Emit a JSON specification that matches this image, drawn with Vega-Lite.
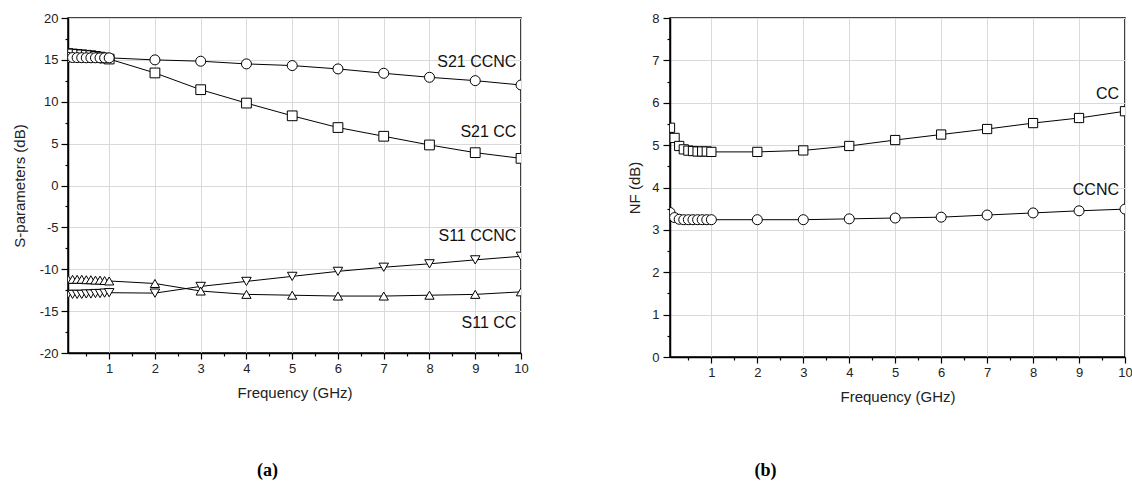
{
  "$schema": "https://vega.github.io/schema/vega-lite/v6.json",
  "padding": {"left": 11, "top": 11, "right": 0, "bottom": 0},
  "background": "white",
  "datasets": {
    "sp": [
      {"f":0.1,"val":15.75,"s":"S21 CC"},{"f":0.2,"val":15.7,"s":"S21 CC"},{"f":0.3,"val":15.65,"s":"S21 CC"},{"f":0.4,"val":15.6,"s":"S21 CC"},{"f":0.5,"val":15.55,"s":"S21 CC"},{"f":0.6,"val":15.5,"s":"S21 CC"},{"f":0.7,"val":15.42,"s":"S21 CC"},{"f":0.8,"val":15.33,"s":"S21 CC"},{"f":0.9,"val":15.22,"s":"S21 CC"},{"f":1,"val":15.1,"s":"S21 CC"},
      {"f":2,"val":13.44,"s":"S21 CC"},{"f":3,"val":11.44,"s":"S21 CC"},{"f":4,"val":9.84,"s":"S21 CC"},{"f":5,"val":8.32,"s":"S21 CC"},{"f":6,"val":6.92,"s":"S21 CC"},{"f":7,"val":5.88,"s":"S21 CC"},{"f":8,"val":4.84,"s":"S21 CC"},{"f":9,"val":3.92,"s":"S21 CC"},{"f":10,"val":3.24,"s":"S21 CC"},
      {"f":0.1,"val":15.3,"s":"S21 CCNC"},{"f":0.2,"val":15.28,"s":"S21 CCNC"},{"f":0.3,"val":15.27,"s":"S21 CCNC"},{"f":0.4,"val":15.26,"s":"S21 CCNC"},{"f":0.5,"val":15.25,"s":"S21 CCNC"},{"f":0.6,"val":15.25,"s":"S21 CCNC"},{"f":0.7,"val":15.25,"s":"S21 CCNC"},{"f":0.8,"val":15.24,"s":"S21 CCNC"},{"f":0.9,"val":15.24,"s":"S21 CCNC"},{"f":1,"val":15.24,"s":"S21 CCNC"},
      {"f":2,"val":15.0,"s":"S21 CCNC"},{"f":3,"val":14.84,"s":"S21 CCNC"},{"f":4,"val":14.52,"s":"S21 CCNC"},{"f":5,"val":14.32,"s":"S21 CCNC"},{"f":6,"val":13.92,"s":"S21 CCNC"},{"f":7,"val":13.4,"s":"S21 CCNC"},{"f":8,"val":12.92,"s":"S21 CCNC"},{"f":9,"val":12.52,"s":"S21 CCNC"},{"f":10,"val":12.0,"s":"S21 CCNC"},
      {"f":0.1,"val":-13.0,"s":"S11 CCNC"},{"f":0.2,"val":-13.0,"s":"S11 CCNC"},{"f":0.3,"val":-13.0,"s":"S11 CCNC"},{"f":0.4,"val":-13.0,"s":"S11 CCNC"},{"f":0.5,"val":-12.95,"s":"S11 CCNC"},{"f":0.6,"val":-12.95,"s":"S11 CCNC"},{"f":0.7,"val":-12.9,"s":"S11 CCNC"},{"f":0.8,"val":-12.9,"s":"S11 CCNC"},{"f":0.9,"val":-12.85,"s":"S11 CCNC"},{"f":1,"val":-12.8,"s":"S11 CCNC"},
      {"f":2,"val":-12.85,"s":"S11 CCNC"},{"f":3,"val":-12.05,"s":"S11 CCNC"},{"f":4,"val":-11.45,"s":"S11 CCNC"},{"f":5,"val":-10.85,"s":"S11 CCNC"},{"f":6,"val":-10.25,"s":"S11 CCNC"},{"f":7,"val":-9.76,"s":"S11 CCNC"},{"f":8,"val":-9.35,"s":"S11 CCNC"},{"f":9,"val":-8.88,"s":"S11 CCNC"},{"f":10,"val":-8.45,"s":"S11 CCNC"},
      {"f":0.1,"val":-11.2,"s":"S11 CC"},{"f":0.2,"val":-11.2,"s":"S11 CC"},{"f":0.3,"val":-11.2,"s":"S11 CC"},{"f":0.4,"val":-11.2,"s":"S11 CC"},{"f":0.5,"val":-11.25,"s":"S11 CC"},{"f":0.6,"val":-11.25,"s":"S11 CC"},{"f":0.7,"val":-11.3,"s":"S11 CC"},{"f":0.8,"val":-11.3,"s":"S11 CC"},{"f":0.9,"val":-11.35,"s":"S11 CC"},{"f":1,"val":-11.4,"s":"S11 CC"},
      {"f":2,"val":-11.7,"s":"S11 CC"},{"f":3,"val":-12.6,"s":"S11 CC"},{"f":4,"val":-13.0,"s":"S11 CC"},{"f":5,"val":-13.1,"s":"S11 CC"},{"f":6,"val":-13.2,"s":"S11 CC"},{"f":7,"val":-13.2,"s":"S11 CC"},{"f":8,"val":-13.1,"s":"S11 CC"},{"f":9,"val":-13.0,"s":"S11 CC"},{"f":10,"val":-12.7,"s":"S11 CC"}
    ],
    "nf": [
      {"f":0.1,"val":5.41,"s":"CC"},{"f":0.2,"val":5.17,"s":"CC"},{"f":0.3,"val":4.98,"s":"CC"},{"f":0.4,"val":4.9,"s":"CC"},{"f":0.5,"val":4.87,"s":"CC"},{"f":0.6,"val":4.86,"s":"CC"},{"f":0.7,"val":4.85,"s":"CC"},{"f":0.8,"val":4.85,"s":"CC"},{"f":0.9,"val":4.85,"s":"CC"},{"f":1,"val":4.84,"s":"CC"},
      {"f":2,"val":4.84,"s":"CC"},{"f":3,"val":4.875,"s":"CC"},{"f":4,"val":4.98,"s":"CC"},{"f":5,"val":5.12,"s":"CC"},{"f":6,"val":5.25,"s":"CC"},{"f":7,"val":5.38,"s":"CC"},{"f":8,"val":5.52,"s":"CC"},{"f":9,"val":5.64,"s":"CC"},{"f":10,"val":5.8,"s":"CC"},
      {"f":0.1,"val":3.41,"s":"CCNC"},{"f":0.2,"val":3.29,"s":"CCNC"},{"f":0.3,"val":3.25,"s":"CCNC"},{"f":0.4,"val":3.24,"s":"CCNC"},{"f":0.5,"val":3.24,"s":"CCNC"},{"f":0.6,"val":3.24,"s":"CCNC"},{"f":0.7,"val":3.24,"s":"CCNC"},{"f":0.8,"val":3.24,"s":"CCNC"},{"f":0.9,"val":3.24,"s":"CCNC"},{"f":1,"val":3.24,"s":"CCNC"},
      {"f":2,"val":3.24,"s":"CCNC"},{"f":3,"val":3.24,"s":"CCNC"},{"f":4,"val":3.26,"s":"CCNC"},{"f":5,"val":3.28,"s":"CCNC"},{"f":6,"val":3.3,"s":"CCNC"},{"f":7,"val":3.35,"s":"CCNC"},{"f":8,"val":3.4,"s":"CCNC"},{"f":9,"val":3.45,"s":"CCNC"},{"f":10,"val":3.49,"s":"CCNC"}
    ],
    "splab": [
      {"f":9.9,"val":14.8,"label":"S21 CCNC"},
      {"f":9.9,"val":6.35,"label":"S21 CC"},
      {"f":9.9,"val":-6.07,"label":"S11 CCNC"},
      {"f":9.9,"val":-16.4,"label":"S11 CC"}
    ],
    "nflab": [
      {"f":9.87,"val":6.2,"label":"CC"},
      {"f":9.87,"val":3.94,"label":"CCNC"}
    ]
  },
  "hconcat": [
    {
      "width": 453,
      "height": 335,
      "title": {"text": "(a)", "orient": "bottom", "anchor": "middle", "dx": -27, "offset": 62, "font": "Liberation Serif", "fontSize": 18, "fontWeight": "bold", "color": "black"},
      "encoding": {
        "x": {"field": "f", "type": "quantitative", "scale": {"domain": [0.1, 10], "nice": false, "zero": false},
          "axis": {"title": "Frequency (GHz)", "values": [0.5,1,1.5,2,2.5,3,3.5,4,4.5,5,5.5,6,6.5,7,7.5,8,8.5,9,9.5,10],
            "labelExpr": "datum.value % 1 === 0 ? '' + datum.value : ''",
            "tickSize": {"condition": {"test": "datum.value % 1 !== 0", "value": 3}, "value": 6},
            "gridOpacity": {"condition": {"test": "datum.value % 1 !== 0", "value": 0}, "value": 1},
            "labelFlush": false, "labelOverlap": false, "labelPadding": 3, "titlePadding": 10}},
        "y": {"field": "val", "type": "quantitative", "scale": {"domain": [-20, 20], "nice": false, "zero": false},
          "axis": {"title": "S-parameters (dB)", "values": [-20,-17.5,-15,-12.5,-10,-7.5,-5,-2.5,0,2.5,5,7.5,10,12.5,15,17.5,20],
            "labelExpr": "datum.value % 5 === 0 ? '' + datum.value : ''",
            "tickSize": {"condition": {"test": "datum.value % 5 !== 0", "value": 3}, "value": 7},
            "gridOpacity": {"condition": {"test": "datum.value % 5 !== 0", "value": 0}, "value": 1},
            "labelFlush": false, "labelOverlap": false, "labelPadding": 3, "titlePadding": 12}}
      },
      "layer": [
        {"data": {"name": "sp"}, "mark": {"type": "line", "color": "black", "strokeWidth": 1, "clip": true},
          "encoding": {"detail": {"field": "s", "type": "nominal"}}},
        {"data": {"name": "sp"}, "mark": {"type": "point", "filled": true, "fill": "white", "stroke": "black", "strokeWidth": 1, "opacity": 1, "clip": true},
          "encoding": {
            "shape": {"field": "s", "type": "nominal", "scale": {"domain": ["S21 CCNC","S21 CC","S11 CCNC","S11 CC"], "range": ["circle","square","triangle-down","triangle-up"]}, "legend": null},
            "size": {"field": "s", "type": "nominal", "scale": {"domain": ["S21 CCNC","S21 CC","S11 CCNC","S11 CC"], "range": [100, 85, 140, 140]}, "legend": null}
          }},
        {"data": {"name": "splab"}, "mark": {"type": "text", "align": "right", "baseline": "middle", "fontSize": 16, "font": "Liberation Sans", "color": "#111"},
          "encoding": {"text": {"field": "label", "type": "nominal"}}}
      ]
    },
    {
      "width": 455,
      "height": 339,
      "title": {"text": "(b)", "orient": "bottom", "anchor": "middle", "dx": -132, "offset": 58, "font": "Liberation Serif", "fontSize": 18, "fontWeight": "bold", "color": "black"},
      "encoding": {
        "x": {"field": "f", "type": "quantitative", "scale": {"domain": [0.1, 10], "nice": false, "zero": false},
          "axis": {"title": "Frequency (GHz)", "values": [0.5,1,1.5,2,2.5,3,3.5,4,4.5,5,5.5,6,6.5,7,7.5,8,8.5,9,9.5,10],
            "labelExpr": "datum.value % 1 === 0 ? '' + datum.value : ''",
            "tickSize": {"condition": {"test": "datum.value % 1 !== 0", "value": 3}, "value": 6},
            "gridOpacity": {"condition": {"test": "datum.value % 1 !== 0", "value": 0}, "value": 1},
            "labelFlush": false, "labelOverlap": false, "labelPadding": 3, "titlePadding": 10}},
        "y": {"field": "val", "type": "quantitative", "scale": {"domain": [0, 8], "nice": false, "zero": false},
          "axis": {"title": "NF (dB)", "values": [0,0.5,1,1.5,2,2.5,3,3.5,4,4.5,5,5.5,6,6.5,7,7.5,8],
            "labelExpr": "datum.value % 1 === 0 ? '' + datum.value : ''",
            "tickSize": {"condition": {"test": "datum.value % 1 !== 0", "value": 3}, "value": 7},
            "gridOpacity": {"condition": {"test": "datum.value % 1 !== 0", "value": 0}, "value": 1},
            "labelFlush": false, "labelOverlap": false, "labelPadding": 4, "titlePadding": 9}}
      },
      "layer": [
        {"data": {"name": "nf"}, "mark": {"type": "line", "color": "black", "strokeWidth": 1, "clip": true},
          "encoding": {"detail": {"field": "s", "type": "nominal"}}},
        {"data": {"name": "nf"}, "mark": {"type": "point", "filled": true, "fill": "white", "stroke": "black", "strokeWidth": 1, "opacity": 1, "clip": true},
          "encoding": {
            "shape": {"field": "s", "type": "nominal", "scale": {"domain": ["CC","CCNC"], "range": ["square","circle"]}, "legend": null},
            "size": {"field": "s", "type": "nominal", "scale": {"domain": ["CC","CCNC"], "range": [85, 100]}, "legend": null}
          }},
        {"data": {"name": "nflab"}, "mark": {"type": "text", "align": "right", "baseline": "middle", "fontSize": 16, "font": "Liberation Sans", "color": "#111"},
          "encoding": {"text": {"field": "label", "type": "nominal"}}}
      ]
    }
  ],
  "spacing": 149,
  "bounds": "flush",
  "resolve": {"scale": {"shape": "independent", "size": "independent"}},
  "config": {
    "view": {"stroke": "black", "strokeWidth": 1.5},
    "axis": {"domainColor": "black", "domainWidth": 1.5, "tickColor": "black", "tickWidth": 1.2,
      "gridColor": "#d9d9d9", "gridWidth": 1,
      "labelFont": "Liberation Sans", "labelFontSize": 13, "labelColor": "#222",
      "titleFont": "Liberation Sans", "titleFontSize": 15, "titleFontWeight": "normal", "titleColor": "#222"}
  }
}
